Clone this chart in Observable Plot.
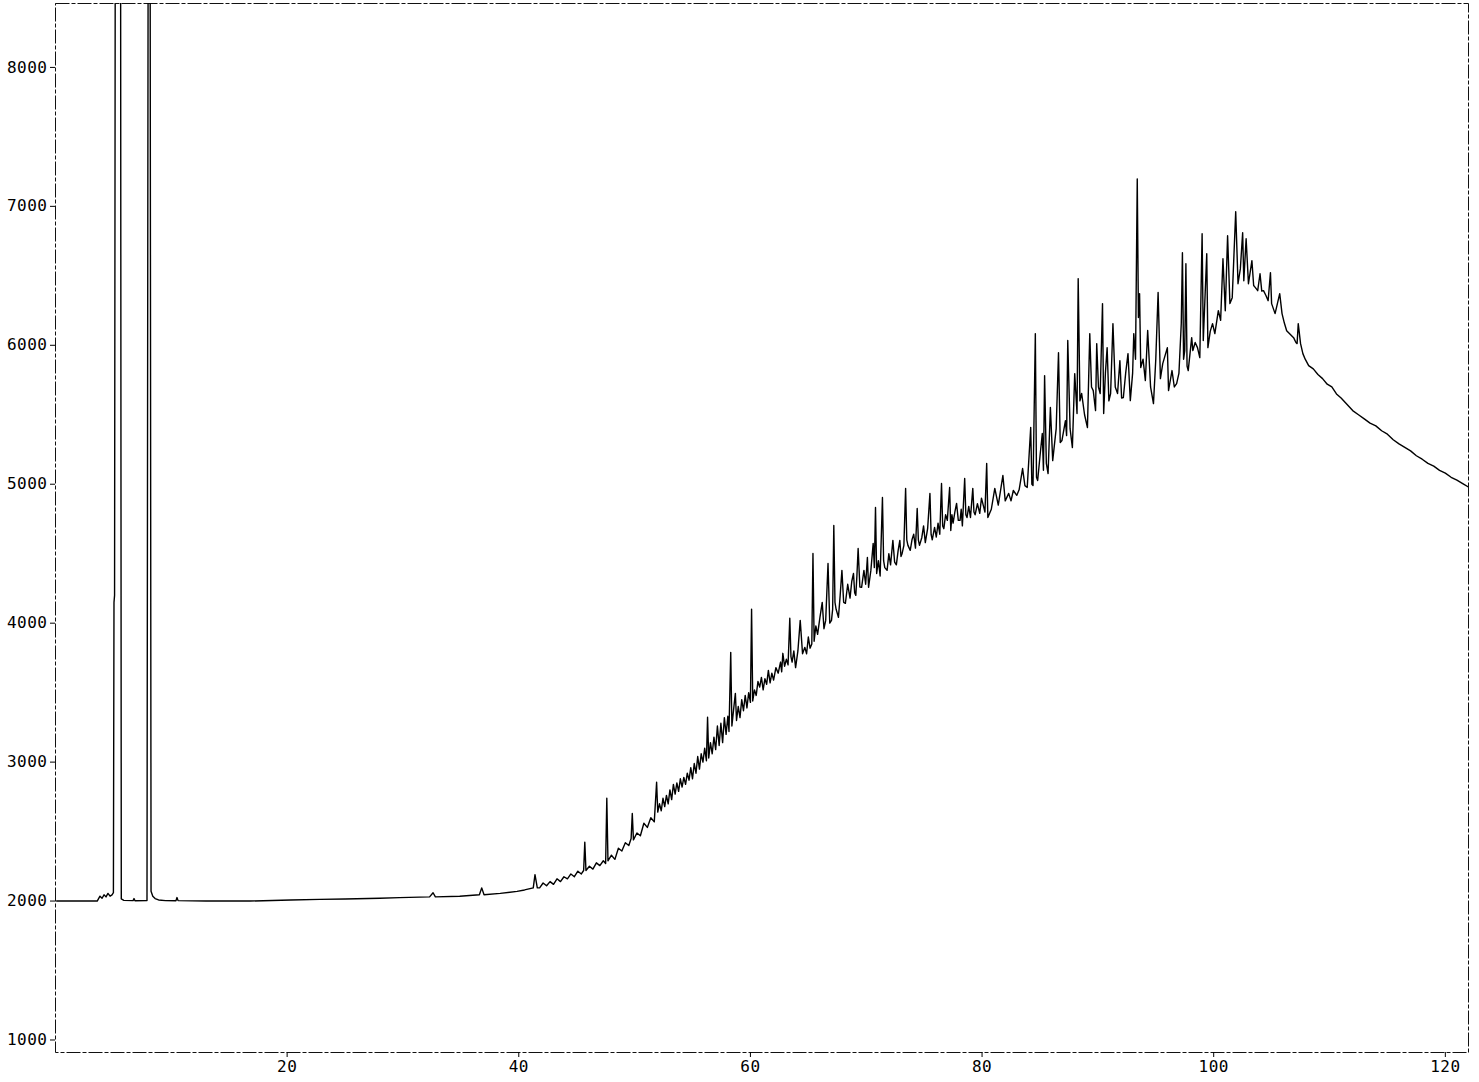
<!DOCTYPE html>
<html><head><meta charset="utf-8">
<script src="https://cdn.jsdelivr.net/npm/d3@7"></script>
<script src="https://cdn.jsdelivr.net/npm/@observablehq/plot@0.6"></script>
<style>html,body{margin:0;padding:0;background:#fff} svg{display:block}</style>
</head><body><div id="chart"></div>
<script>
// [retention time, detector signal]
const solventRegion = [[0.1,2000],[3.6,2000],[3.84,2035],[4.02,2020],[4.19,2045],[4.36,2030],[4.53,2055],[4.71,2035],[4.88,2045],[5.0,2060],[5.05,4150],[5.1,4200],[5.16,9000],[5.62,9000],[5.68,2015],[5.9,2005],[6.7,2003],[6.78,2018],[6.86,2002],[7.9,2004],[8.0,9000],[8.17,9000],[8.25,2070],[8.4,2035],[8.6,2018],[8.9,2008],[9.5,2003],[10.4,2002],[10.49,2025],[10.58,2003],[13,2000]];
const flatRegion = [[16.8,2000],[20.3,2008],[22.8,2012],[25,2015],[28,2020],[29.7,2025],[32.3,2030],[32.6,2060],[32.8,2030],[34.9,2035],[36.6,2045],[36.8,2095],[37.0,2045],[38.4,2055],[39.85,2070],[40.5,2080],[41.25,2095],[41.4,2190],[41.6,2095]];
const humpRise = [[41.8,2095],[42.1,2130],[42.4,2110],[42.7,2140],[43.0,2120],[43.3,2160],[43.6,2140],[43.9,2175],[44.2,2160],[44.5,2195],[44.8,2175],[45.1,2215],[45.4,2195],[45.6,2220],[45.7,2424],[45.8,2220],[46.1,2250],[46.4,2230],[46.7,2275],[47.0,2255],[47.3,2290],[47.5,2270],[47.6,2740],[47.7,2290],[48.0,2330],[48.3,2300],[48.6,2380],[48.9,2360],[49.2,2420],[49.5,2400],[49.7,2450],[49.8,2630],[49.9,2440],[50.2,2490],[50.5,2470],[50.8,2560],[51.1,2530],[51.4,2600],[51.7,2570],[51.9,2855],[52.0,2640],[52.15,2700],[52.3,2650],[52.45,2740],[52.6,2680],[52.75,2760],[52.9,2700],[53.05,2800],[53.2,2730],[53.35,2840],[53.5,2770],[53.65,2850],[53.8,2790],[53.95,2880],[54.1,2820],[54.25,2890],[54.4,2840],[54.55,2920],[54.7,2870],[54.85,2960],[55.0,2880],[55.15,2990],[55.3,2920],[55.45,3040],[55.6,2950],[55.75,3060],[55.9,3000],[56.05,3100],[56.2,3010],[56.3,3323],[56.4,3030],[56.55,3140],[56.7,3060],[56.85,3180],[57.0,3090],[57.15,3260],[57.3,3120],[57.45,3280],[57.6,3140],[57.75,3320],[57.9,3200],[58.05,3330],[58.15,3220],[58.3,3790],[58.4,3260],[58.55,3380],[58.7,3495],[58.8,3300],[58.95,3400],[59.1,3320],[59.25,3450],[59.4,3370],[59.55,3480],[59.7,3390],[59.85,3500],[60.0,3430],[60.1,4100],[60.2,3440]];
const humpMid = [[60.35,3520],[60.5,3480],[60.65,3580],[60.8,3540],[60.95,3610],[61.1,3520],[61.25,3600],[61.4,3560],[61.55,3660],[61.7,3570],[61.85,3640],[62.0,3590],[62.2,3680],[62.4,3640],[62.6,3720],[62.7,3650],[62.8,3783],[62.95,3690],[63.1,3740],[63.25,3700],[63.4,4035],[63.5,3760],[63.6,3720],[63.75,3800],[63.9,3680],[64.1,3800],[64.3,4020],[64.5,3780],[64.7,3826],[64.85,3780],[65.0,3900],[65.15,3820],[65.3,3850],[65.4,4502],[65.5,3870],[65.65,3980],[65.8,3920],[66.0,4040],[66.2,4150],[66.35,3960],[66.5,4020],[66.7,4430],[66.85,4000],[67.0,4020],[67.1,4100],[67.2,4703],[67.3,4150],[67.4,4100],[67.6,4042],[67.75,4200],[67.9,4380],[68.05,4150],[68.2,4143],[68.4,4280],[68.6,4180],[68.75,4300],[68.9,4358],[69.0,4220],[69.1,4200],[69.2,4350],[69.3,4538],[69.45,4260],[69.6,4258],[69.8,4380],[69.95,4280],[70.1,4473],[70.2,4258],[70.4,4380],[70.6,4574],[70.7,4400],[70.8,4833],[70.9,4358],[71.05,4450],[71.2,4340],[71.4,4905],[71.5,4450],[71.6,4400],[71.8,4380],[71.95,4500],[72.1,4420],[72.3,4596],[72.45,4440],[72.6,4420],[72.75,4520],[72.9,4596],[73.0,4480],[73.1,4502],[73.25,4560],[73.4,4970],[73.5,4600],[73.6,4560],[73.8,4524],[73.95,4600],[74.1,4640],[74.25,4540],[74.4,4826],[74.5,4600],[74.6,4560],[74.8,4617],[74.95,4700],[75.1,4580],[75.3,4680],[75.5,4934],[75.6,4640],[75.7,4600],[75.9,4689],[76.05,4620],[76.2,4720],[76.35,4640],[76.5,5005],[76.6,4700],[76.7,4680],[76.85,4780],[77.0,4740],[77.2,4977],[77.3,4667],[77.4,4780],[77.5,4720],[77.65,4800],[77.8,4862],[77.95,4740],[78.1,4740],[78.2,4820],[78.3,4700],[78.5,5041],[78.6,4780],[78.7,4760],[78.85,4840],[79.0,4761],[79.2,4970],[79.3,4800],[79.4,4780],[79.6,4860],[79.8,4790],[79.95,4900],[80.1,4850],[80.25,4800],[80.4,5149],[80.5,4761]];
const humpTop = [[80.8,4820],[81.1,4970],[81.4,4850],[81.8,5063],[82.0,4880],[82.3,4934],[82.5,4880],[82.7,4955],[83.0,4920],[83.2,4960],[83.5,5113],[83.7,4990],[83.9,4977],[84.2,5408],[84.3,5000],[84.4,4991],[84.6,6084],[84.7,5050],[84.8,5027],[85.0,5200],[85.2,5365],[85.3,5100],[85.4,5782],[85.55,5150],[85.7,5077],[85.9,5552],[86.1,5170],[86.4,5400],[86.6,5947],[86.75,5300],[86.9,5315],[87.2,5458],[87.3,5350],[87.4,6034],[87.6,5400],[87.8,5264],[88.0,5796],[88.2,5509],[88.3,6480],[88.45,5600],[88.6,5653],[88.85,5500],[89.1,5408],[89.3,6084],[89.45,5700],[89.6,5674],[89.8,5530],[89.9,6012],[90.05,5700],[90.2,5653],[90.4,6300],[90.5,5509],[90.65,5800],[90.8,5983],[90.95,5600],[91.1,5653],[91.3,6156],[91.5,5700],[91.7,5653],[91.9,5890],[92.05,5620],[92.2,5624],[92.4,5800],[92.6,5940],[92.8,5602],[93.0,5800],[93.1,6084],[93.25,5900],[93.4,7198],[93.5,6200],[93.6,6372],[93.7,5840],[93.9,5900],[94.1,5746],[94.3,6106],[94.55,5700],[94.8,5580],[95.0,5900],[95.2,6380],[95.4,5760],[95.6,5868],[96.0,5983],[96.1,5674],[96.4,5818],[96.6,5700],[96.8,5724],[97.0,5800],[97.2,6156],[97.3,6666],[97.4,5900],[97.5,5962],[97.6,6587],[97.7,5850],[97.8,5818],[98.1,6055],[98.2,5962],[98.4,6020],[98.6,5983],[98.8,5911],[99.0,6803],[99.1,6034],[99.4,6659],[99.5,5983],[99.7,6100],[99.9,6156],[100.1,6084],[100.4,6249],[100.6,6180],[100.8,6623],[101.0,6249],[101.2,6789],[101.4,6300],[101.6,6343],[101.9,6961],[102.1,6443],[102.3,6550],[102.5,6810],[102.6,6465],[102.8,6767],[103.0,6443],[103.3,6609],[103.45,6430],[103.6,6415],[103.8,6393],[104.0,6515],[104.15,6390],[104.3,6393],[104.5,6360],[104.7,6321],[104.9,6523],[105.0,6300],[105.3,6228],[105.5,6300],[105.7,6372],[105.9,6228],[106.1,6160],[106.3,6105],[106.6,6080],[106.9,6055],[107.1,6020],[107.2,6012],[107.3,6156],[107.5,6012],[107.7,5940],[107.9,5900],[108.2,5854]];
const tailRegion = [[108.6,5830],[109.0,5790],[109.4,5760],[109.8,5720],[110.2,5700],[110.6,5650],[111.0,5620],[111.5,5575],[112.0,5530],[112.5,5500],[113.0,5470],[113.5,5440],[114.0,5420],[114.5,5385],[115.0,5360],[115.5,5320],[116.0,5290],[116.5,5265],[117.0,5240],[117.5,5205],[118.0,5180],[118.5,5150],[119.0,5130],[119.5,5100],[120.0,5080],[120.5,5050],[121.0,5030],[121.5,5005],[122.0,4980]];

const xTicks = [20, 40, 60, 80, 100, 120];
const yTicks = [1000, 2000, 3000, 4000, 5000, 6000, 7000, 8000];

const trace = [...solventRegion, ...flatRegion, ...humpRise, ...humpMid, ...humpTop, ...tailRegion]
  .map(([t, v]) => ({t, v}));

const chart = Plot.plot({
  width: 1479,
  height: 1082,
  marginLeft: 55,
  marginRight: 11,
  marginTop: 3,
  marginBottom: 30,
  style: {fontFamily: "'DejaVu Sans Mono', monospace", fontSize: "16px", color: "#000", background: "#fff", letterSpacing: "0.5px"},
  x: {domain: [0, 122]},
  y: {domain: [910, 8460]},
  marks: [
    Plot.frame({stroke: "#111", strokeWidth: 1, strokeDasharray: "14,2,4,2"}),
    Plot.line(trace, {x: "t", y: "v", stroke: "#000", strokeWidth: 1.4, clip: true}),
    Plot.axisX({ticks: xTicks, tickSize: 5, tickPadding: 3, label: null, tickFormat: d => String(d)}),
    Plot.axisY({ticks: yTicks, tickSize: 5, tickPadding: 3, label: null, tickFormat: d => String(d)})
  ]
});
document.getElementById("chart").appendChild(chart);
</script>
</body></html>
